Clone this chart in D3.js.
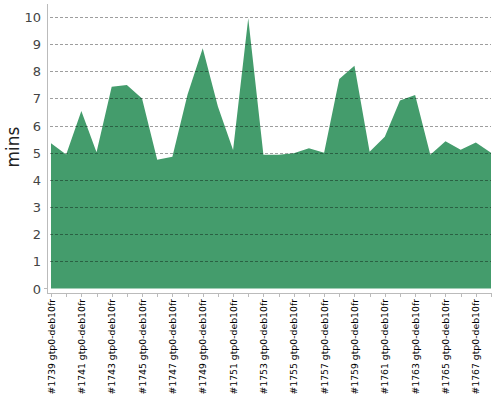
<!DOCTYPE html>
<html><head><meta charset="utf-8">
<script src="https://cdn.jsdelivr.net/npm/d3@7"></script>
<style>body{margin:0;background:#fff}svg{display:block}</style>
</head><body>
<svg id="c" width="500" height="400"></svg>
<script>
const builds = d3.range(1739, 1769).map(n => "#" + n + " gtp0-deb10fr");
const mins = [5.35,4.94,6.54,5.02,7.43,7.50,7.00,4.74,4.85,7.15,8.85,6.70,5.10,9.95,4.93,4.93,4.98,5.17,5.00,7.72,8.20,5.04,5.59,6.92,7.13,4.93,5.42,5.11,5.38,5.00];
const yTicks = [0,1,2,3,4,5,6,7,8,9,10];

const svg = d3.select("#c");
const x = d3.scalePoint().domain(builds).range([51, 491]);
const y = d3.scaleLinear().domain([0, 10]).range([288.5, 17]);
const font = "DejaVu Sans, sans-serif";

// area
const area = d3.area().x(d => x(d[0])).y0(y(0)).y1(d => y(d[1]));
svg.append("path").datum(builds.map((b, i) => [b, mins[i]]))
  .attr("d", area).attr("fill", "#449c6c");

// grid
svg.append("g").selectAll("line").data(yTicks.filter(t => t > 0)).join("line")
  .attr("x1", 50).attr("x2", 491)
  .attr("y1", d => Math.round(y(d)) + 0.5).attr("y2", d => Math.round(y(d)) + 0.5)
  .attr("stroke", "#000").attr("stroke-opacity", 0.38)
  .attr("stroke-dasharray", "3,2");

// y axis
svg.append("line").attr("x1", 47.5).attr("x2", 47.5).attr("y1", 4).attr("y2", 293)
  .attr("stroke", "#bbb");
svg.append("g").selectAll("text").data(yTicks).join("text")
  .attr("x", 41).attr("y", d => y(d) + 5)
  .attr("text-anchor", "end").attr("font-family", font).attr("font-size", 13)
  .attr("fill", "#444").text(d => d);
svg.append("line").attr("x1", 44).attr("x2", 47).attr("y1", 288.5).attr("y2", 288.5)
  .attr("stroke", "#bbb");

// x axis
svg.append("line").attr("x1", 47).attr("x2", 491.5).attr("y1", 293.5).attr("y2", 293.5)
  .attr("stroke", "#bbb");
svg.append("g").selectAll("line").data(builds).join("line")
  .attr("x1", d => Math.round(x(d)) + 0.5).attr("x2", d => Math.round(x(d)) + 0.5)
  .attr("y1", 293).attr("y2", 297).attr("stroke", "#bbb");
svg.append("g").selectAll("text").data(builds.filter((b, i) => i % 2 === 0)).join("text")
  .attr("transform", d => `translate(${x(d) + 3.5},299) rotate(-90)`)
  .attr("text-anchor", "end").attr("font-family", font).attr("font-size", 9.3)
  .attr("fill", "#000").text(d => d);

// y label
svg.append("text").attr("transform", "translate(19,147) rotate(-90)")
  .attr("text-anchor", "middle").attr("font-family", font).attr("font-size", 17)
  .attr("fill", "#222").text("mins");
</script>
</body></html>
